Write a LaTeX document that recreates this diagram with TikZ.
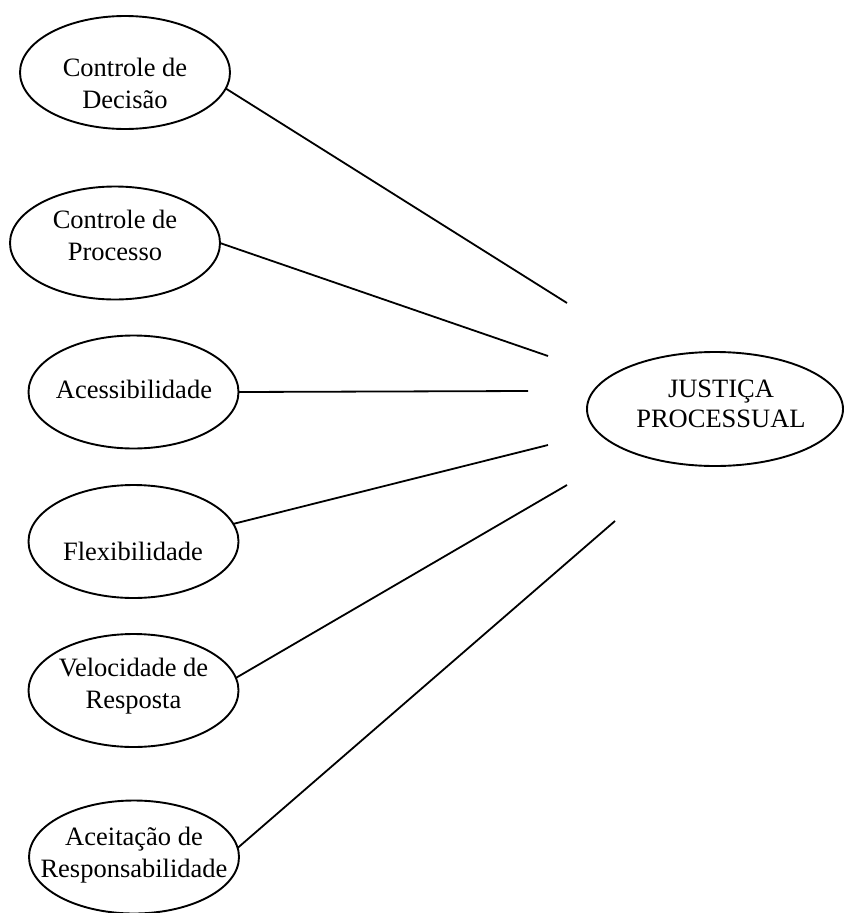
\documentclass[tikz,border=0pt]{standalone}
\usepackage{fontspec}
\setmainfont{Liberation Serif}
\usetikzlibrary{shapes.geometric}
\begin{document}
\begin{tikzpicture}[x=1pt,y=-1pt,
  oval/.style={draw, ellipse, line width=1.9pt, inner sep=0pt, outer sep=0pt,
               minimum width=210pt, minimum height=113pt},
  lbl/.style={align=center, anchor=base, inner sep=0pt,
              font=\fontsize{26.5}{32}\selectfont},
  link/.style={line width=1.8pt}]
\useasboundingbox (0,0) rectangle (844,913);

% factor ovals (labels anchored on the baseline of their last line)
\node[oval] (e1) at (125,72.5) {};
\node[lbl]  (t1) at (125,108) {Controle de\\Decisão};
\node[oval] (e2) at (115,243) {};
\node[lbl]  (t2) at (115,260) {Controle de\\Processo};
\node[oval] (e3) at (133.5,392) {};
\node[lbl]  (t3) at (134,398) {Acessibilidade};
\node[oval] (e4) at (133.5,541.5) {};
\node[lbl]  (t4) at (133,560) {Flexibilidade};
\node[oval] (e5) at (133.5,690.5) {};
\node[lbl]  (t5) at (133.5,708) {Velocidade de\\Resposta};
\node[oval] (e6) at (134,857) {};
\node[lbl]  (t6) at (134,877) {Aceitação de\\Responsabilidade};

% central concept
\node[oval, minimum width=256pt, minimum height=114pt] (js) at (715,409) {};
\node[lbl, font=\fontsize{26.5}{30}\selectfont] (tj) at (721,427) {JUSTIÇA\\PROCESSUAL};

% free ends of the links, short of the central oval
\coordinate (j1) at (567,303);
\coordinate (j2) at (548,356);
\coordinate (j3) at (528,391);
\coordinate (j4) at (548,445);
\coordinate (j5) at (567,485);
\coordinate (j6) at (615,521);

\draw[link] (e1.-9) -- (j1);
\draw[link] (e2.east) -- (j2);
\draw[link] (e3.east) -- (j3);
\draw[link] (e4.10) -- (j4);
\draw[link] (e5.7) -- (j5);
\draw[link] (e6.5) -- (j6);
\end{tikzpicture}
\end{document}
